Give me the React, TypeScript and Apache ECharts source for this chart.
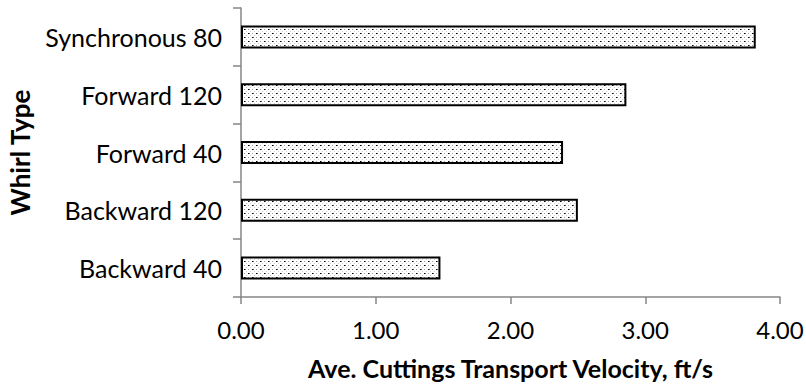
import React, { useEffect, useRef } from "react";
import * as echarts from "echarts";

const categories = ["Backward 40", "Backward 120", "Forward 40", "Forward 120", "Synchronous 80"];
const velocities = [1.48, 2.5, 2.39, 2.86, 3.82];

function makePattern(): HTMLCanvasElement {
  const c = document.createElement("canvas");
  c.width = 8;
  c.height = 8;
  const ctx = c.getContext("2d")!;
  ctx.fillStyle = "#ffffff";
  ctx.fillRect(0, 0, 8, 8);
  ctx.fillStyle = "#000000";
  ctx.fillRect(0, 1, 1, 1);
  ctx.fillRect(4, 5, 1, 1);
  ctx.fillStyle = "#6a6a6a";
  ctx.fillRect(1, 1, 1, 1);
  ctx.fillRect(5, 5, 1, 1);
  ctx.fillStyle = "#a0a0a0";
  ctx.fillRect(4, 1, 1, 1);
  ctx.fillRect(0, 5, 1, 1);
  ctx.fillStyle = "#d0d0d0";
  ctx.fillRect(2, 3, 1, 1);
  ctx.fillRect(6, 3, 1, 1);
  ctx.fillRect(2, 7, 1, 1);
  ctx.fillRect(6, 7, 1, 1);
  return c;
}

export default function App() {
  const ref = useRef<HTMLDivElement>(null);
  useEffect(() => {
    if (!ref.current) return;
    const chart = echarts.init(ref.current, null, { renderer: "svg" });
    const font = "Lato, 'Open Sans', sans-serif";
    chart.setOption({
      animation: false,
      backgroundColor: "#ffffff",
      grid: { left: 241, right: 26, top: 8, bottom: 92, containLabel: false, outerBoundsMode: "none" },
      xAxis: {
        type: "value",
        min: 0,
        max: 4,
        interval: 1,
        axisLine: { show: true, lineStyle: { color: "#868686", width: 1.5 } },
        axisTick: { show: true, length: 7, lineStyle: { color: "#868686", width: 1.5 } },
        splitLine: { show: false },
        axisLabel: {
          formatter: (v: number) => v.toFixed(2),
          color: "#000",
          fontFamily: font,
          fontSize: 24,
          margin: 20,
        },
        name: "Ave. Cuttings Transport Velocity, ft/s",
        nameLocation: "middle",
        nameGap: 58,
        nameTextStyle: { color: "#000", fontFamily: font, fontSize: 25, fontWeight: "bold" },
      },
      yAxis: {
        type: "category",
        data: categories,
        axisLine: { show: true, lineStyle: { color: "#868686", width: 1.5 } },
        axisTick: { show: true, length: 8, alignWithLabel: false, lineStyle: { color: "#868686", width: 1.5 } },
        axisLabel: { color: "#000", fontFamily: font, fontSize: 25, margin: 19 },
        name: "Whirl Type",
        nameLocation: "middle",
        nameGap: 208,
        nameRotate: 90,
        nameTextStyle: { color: "#000", fontFamily: font, fontSize: 26, fontWeight: "bold" },
      },
      series: [
        {
          type: "bar",
          data: velocities,
          barWidth: 23,
          itemStyle: {
            color: { image: makePattern(), repeat: "repeat" } as any,
            borderColor: "#000",
            borderWidth: 2,
          },
        },
      ],
    });
    return () => chart.dispose();
  }, []);
  return <div ref={ref} style={{ width: 806, height: 389, position: "absolute", left: 0, top: 0 }} />;
}
